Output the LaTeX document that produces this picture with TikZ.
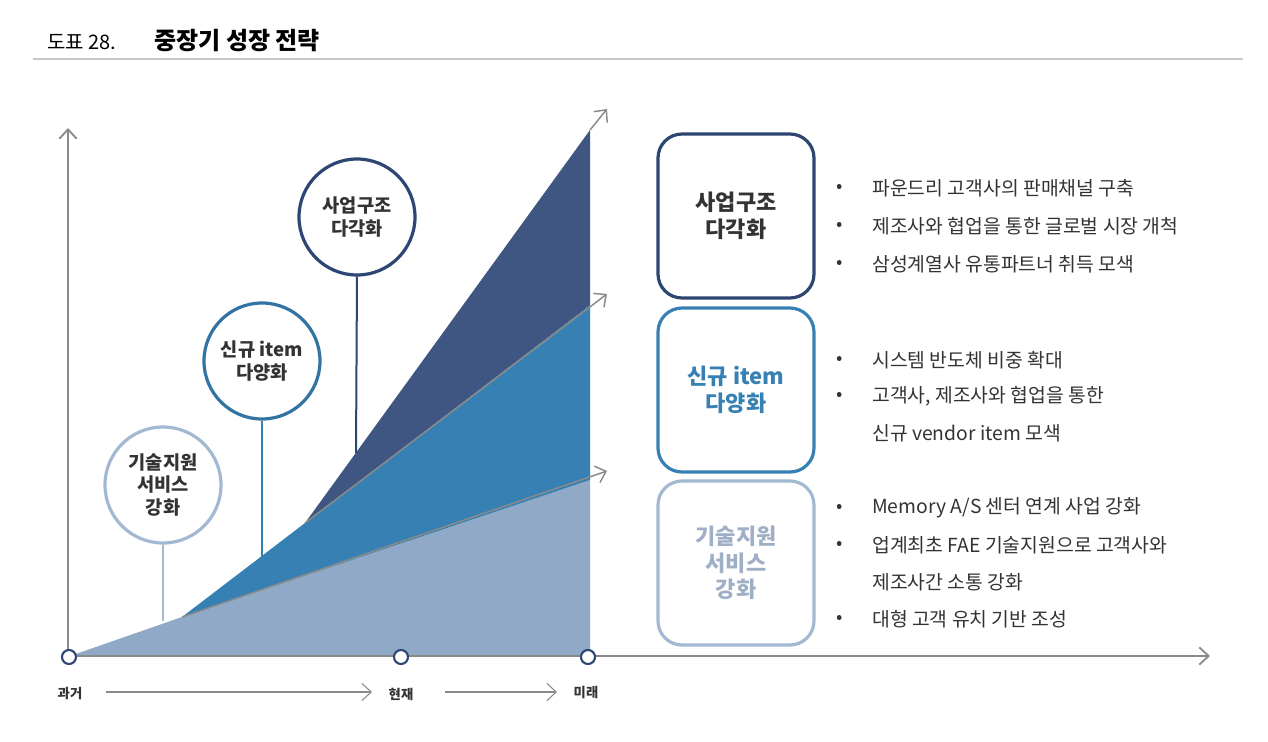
\documentclass[tikz,border=0pt]{standalone}
\usepackage{fontspec}
\setmainfont{Noto Sans CJK KR}
\usetikzlibrary{arrows.meta}
\definecolor{navy}{HTML}{3E5681}
\definecolor{navyline}{HTML}{2D4673}
\definecolor{midblue}{HTML}{3780B3}
\definecolor{lightblue}{HTML}{8FA9C6}
\definecolor{lightline}{HTML}{A3B8D2}
\definecolor{axisgray}{HTML}{8A8A8A}
\definecolor{txtgray}{HTML}{333333}
\definecolor{paletxt}{HTML}{9FB0C6}

\begin{document}
\begin{tikzpicture}[x=0.75pt,y=-0.75pt,
	eixo/.style={draw=axisgray, line width=1.4pt, -{Straight Barb[length=7pt,width=13pt]}},
	seta/.style={draw=axisgray, line width=1.4pt, -{Straight Barb[length=7pt,width=13pt]}},
	marco/.style={circle, draw=navyline, line width=1.6pt, fill=white, minimum size=10.5pt, inner sep=0pt},
	bola/.style={circle, line width=2.4pt, minimum size=87pt, inner sep=0pt, align=center,
		font=\fontsize{14}{17}\selectfont\bfseries, text=txtgray},
	caixa/.style={rounded corners=18pt, line width=2.4pt, minimum width=117pt, minimum height=123pt,
		inner sep=0pt, align=center, font=\fontsize{16.5}{20}\selectfont\bfseries},
	item/.style={anchor=west, inner sep=0pt, text=txtgray, font=\fontsize{14.5}{17}\selectfont},
	bullet/.style={inner sep=0pt, text=txtgray, font=\fontsize{14}{16}\selectfont},
	tempo/.style={inner sep=0pt, text=txtgray, font=\fontsize{10}{12}\selectfont\bfseries}]
	\useasboundingbox (0,0) rectangle (1268,742);
	
	% Titulo
	\node[anchor=west, inner sep=0pt, font=\fontsize{15}{18}\selectfont] (fig) at (47,42) {도표 28.};
	\node[anchor=west, inner sep=0pt, font=\fontsize{18}{22}\selectfont\bfseries] (titulo) at (154,41) {중장기 성장 전략};
	\draw[line width=1pt, black!22] (33,59) -- (1243,59);
	
	% Areas
	\fill[lightblue] (70,656) -- (182,617) -- (590,480) -- (590,656) -- cycle;
	\fill[midblue] (182,617) -- (305,523) -- (590,305) -- (590,480) -- cycle;
	\fill[navy] (305,523) -- (590,130) -- (590,305) -- cycle;
	
	% Setas de tendencia
	\draw[seta, line width=1.1pt] (182,617) -- (607,471);
	\draw[seta, line width=1.1pt] (305,523) -- (607,294);
	\draw[seta, line width=1.1pt] (590,130) -- (607,109);
	
	% Eixos
	\draw[eixo] (68,656) -- (68,128);
	\draw[eixo] (68,656) -- (1210,656);
	\node[marco] (m1) at (69,657) {};
	\node[marco] (m2) at (401,657) {};
	\node[marco] (m3) at (588,657) {};
	
	% Circulos
	\node[bola, draw=lightline] (cTech) at (163,485) {기술지원\\서비스\\강화};
	\node[bola, draw=midblue!90!black] (cItem) at (262,361) {신규 item\\다양화};
	\node[bola, draw=navyline] (cBiz) at (357,217) {사업구조\\다각화};
	\coordinate (pTech) at (163,621);
	\coordinate (pItem) at (262,557);
	\coordinate (pBiz) at (356,453);
	\draw[lightline, line width=1.5pt] (cTech.south) -- (pTech);
	\draw[midblue, line width=1.5pt] (cItem.south) -- (pItem);
	\draw[navyline, line width=1.5pt] (cBiz.south) -- (pBiz);
	
	% Caixas
	\node[caixa, draw=navyline, text=txtgray] (bBiz) at (736,216) {사업구조\\다각화};
	\node[caixa, draw=midblue, text=midblue] (bItem) at (736,390) {신규 item\\다양화};
	\node[caixa, draw=lightline, text=paletxt] (bTech) at (736,563) {기술지원\\서비스\\강화};
	
	% Itens
	\foreach \y/\t in {188/{파운드리 고객사의 판매채널 구축}, 226/{제조사와 협업을 통한 글로벌 시장 개척}, 264/{삼성계열사 유통파트너 취득 모색},
		360/{시스템 반도체 비중 확대}, 396/{고객사, 제조사와 협업을 통한}, 508/{Memory A/S 센터 연계 사업 강화},
		545/{업계최초 FAE 기술지원으로 고객사와}, 619/{대형 고객 유치 기반 조성}}{
		\node[bullet] (b\y) at (840,\y) {•};
		\node[item] (l\y) at (872,\y) {\t};
	}
	\node[item] (l433) at (872,433) {신규 vendor item 모색};
	\node[item] (l582) at (872,582) {제조사간 소통 강화};
	
	% Linha do tempo
	\node[tempo] (passado) at (70,694) {과거};
	\node[tempo] (presente) at (401,694) {현재};
	\node[tempo] (futuro) at (586,693) {미래};
	\draw[seta, line width=0.8pt] (106,692) -- (372,692);
	\draw[seta, line width=0.8pt] (445,692) -- (557,692);
\end{tikzpicture}
\end{document}
